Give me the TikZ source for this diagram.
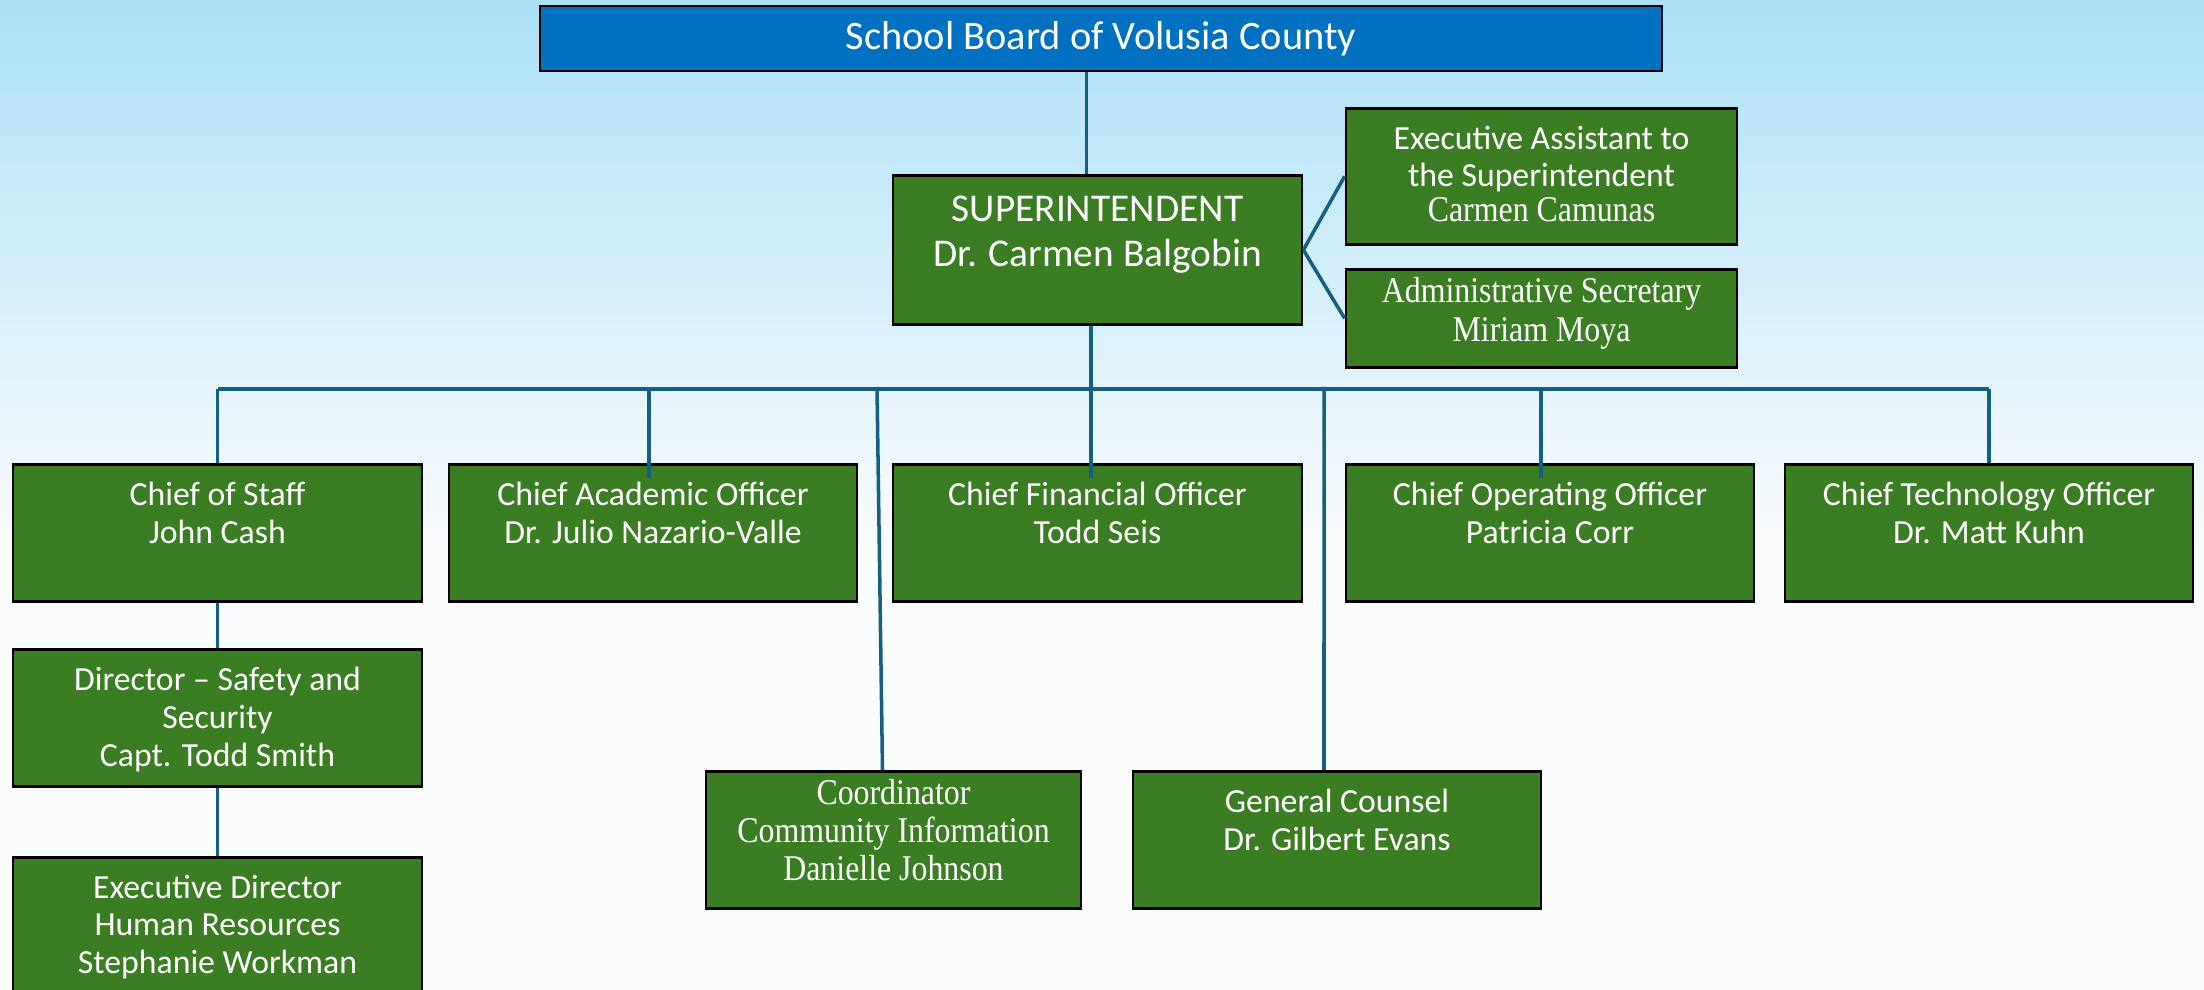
\documentclass[tikz,border=0pt]{standalone}
\usepackage{fontspec}
\setmainfont{Carlito}
\newfontfamily\garafont[FakeStretch=0.88]{Liberation Serif}
\definecolor{bgtop}{RGB}{172,225,247}
\definecolor{bgbot}{RGB}{251,252,253}
\definecolor{boardblue}{RGB}{0,112,192}
\definecolor{postgreen}{RGB}{59,125,35}
\definecolor{linkblue}{RGB}{21,96,130}
\tikzset{
	post/.style={draw=black, line width=0.8pt, fill=postgreen, anchor=north, minimum height=1.37cm, inner sep=0pt},
	posttxt/.style={anchor=north, align=center, text=white, inner sep=0pt, yshift=-0.18cm, font=\fontsize{9.6}{10.8}\selectfont},
	serif/.style={yshift=0.09cm, font=\garafont\fontsize{10.3}{10.8}\selectfont},
	link/.style={draw=linkblue, line width=1pt},
}
\begin{document}
\begin{tikzpicture}
	\useasboundingbox (0, 0) rectangle (22.04, 9.90);
	\fill[bgbot] (0, 0) rectangle (22.04, 9.90);
	\shade[top color=bgtop, bottom color=bgbot] (0, 4.4) rectangle (22.04, 9.90);
	% board and superintendent
	\node[post, fill=boardblue, anchor=center, minimum width=11.22cm, minimum height=0.65cm, text=white, font=\fontsize{11.5}{13}\selectfont] (board) at (11.01, 9.515) {School Board of Volusia County};
	\node[post, minimum width=4.09cm, minimum height=1.49cm] (sup) at (10.975, 8.16) {};
	\node[posttxt, yshift=-0.03cm, font=\fontsize{11.2}{12.8}\selectfont] (sup-t) at (sup.north) {SUPERINTENDENT\\Dr. Carmen Balgobin};
	\node[post, minimum width=3.91cm, minimum height=1.36cm] (ea) at (15.415, 8.83) {};
	\node[posttxt] (ea-t) at (ea.north) {Executive Assistant to\\the Superintendent\\[-1pt]{\garafont\fontsize{10.3}{10.8}\selectfont Carmen Camunas}};
	\node[post, minimum width=3.91cm, minimum height=0.98cm] (as) at (15.415, 7.22) {};
	\node[posttxt, serif, font=\garafont\fontsize{10.3}{11}\selectfont] (as-t) at (as.north) {Administrative Secretary\\Miriam Moya};
	% chiefs
	\node[post, minimum width=4.09cm] (cos) at (2.175, 5.27) {};
	\node[posttxt] (cos-t) at (cos.north) {Chief of Staff\\John Cash};
	\node[post, minimum width=4.08cm] (cao) at (6.53, 5.27) {};
	\node[posttxt] (cao-t) at (cao.north) {Chief Academic Officer\\Dr. Julio Nazario-Valle};
	\node[post, minimum width=4.09cm] (cfo) at (10.975, 5.27) {};
	\node[posttxt] (cfo-t) at (cfo.north) {Chief Financial Officer\\Todd Seis};
	\node[post, minimum width=4.08cm] (coo) at (15.50, 5.27) {};
	\node[posttxt] (coo-t) at (coo.north) {Chief Operating Officer\\Patricia Corr};
	\node[post, minimum width=4.08cm] (cto) at (19.89, 5.27) {};
	\node[posttxt] (cto-t) at (cto.north) {Chief Technology Officer\\Dr. Matt Kuhn};
	% lower boxes
	\node[post, minimum width=4.09cm] (dir) at (2.175, 3.42) {};
	\node[posttxt] (dir-t) at (dir.north) {Director -- Safety and\\Security\\Capt. Todd Smith};
	\node[post, minimum width=4.09cm] (hr) at (2.175, 1.34) {};
	\node[posttxt] (hr-t) at (hr.north) {Executive Director\\Human Resources\\Stephanie Workman};
	\node[post, minimum width=3.75cm] (coord) at (8.935, 2.20) {};
	\node[posttxt, serif] (coord-t) at (coord.north) {Coordinator\\Community Information\\Danielle Johnson};
	\node[post, minimum width=4.08cm] (gc) at (13.37, 2.20) {};
	\node[posttxt] (gc-t) at (gc.north) {General Counsel\\Dr. Gilbert Evans};
	% connectors
	\coordinate (bus) at (0, 6.01);
	\coordinate (tapcoord) at (8.77, 6.03);
	\coordinate (tapgc) at (13.24, 6.03);
	\draw[link] ([xshift=-0.11cm]sup.north |- board.south) -- ([xshift=-0.11cm]sup.north);
	\draw[link] (sup.east) -- (ea.west);
	\draw[link] (sup.east) -- (as.west);
	\draw[link] ([xshift=-0.065cm]sup.south) -- ([xshift=-0.065cm, yshift=-0.15cm]cfo.north);
	\draw[link] (cos.north |- bus) -- (cto.north |- bus);
	\draw[link] (cos.north |- bus) -- (cos.north);
	\draw[link] ([xshift=-0.04cm]cao.north |- bus) -- ([xshift=-0.04cm, yshift=-0.15cm]cao.north);
	\draw[link] ([xshift=-0.09cm]coo.north |- bus) -- ([xshift=-0.09cm, yshift=-0.15cm]coo.north);
	\draw[link] (cto.north |- bus) -- (cto.north);
	\draw[link] (cos.south) -- (dir.north);
	\draw[link] (dir.south) -- (hr.north);
	\draw[link] (tapcoord) -- ([xshift=-0.11cm]coord.north);
	\draw[link] (tapgc) -- ([xshift=-0.13cm]gc.north);
\end{tikzpicture}
\end{document}
